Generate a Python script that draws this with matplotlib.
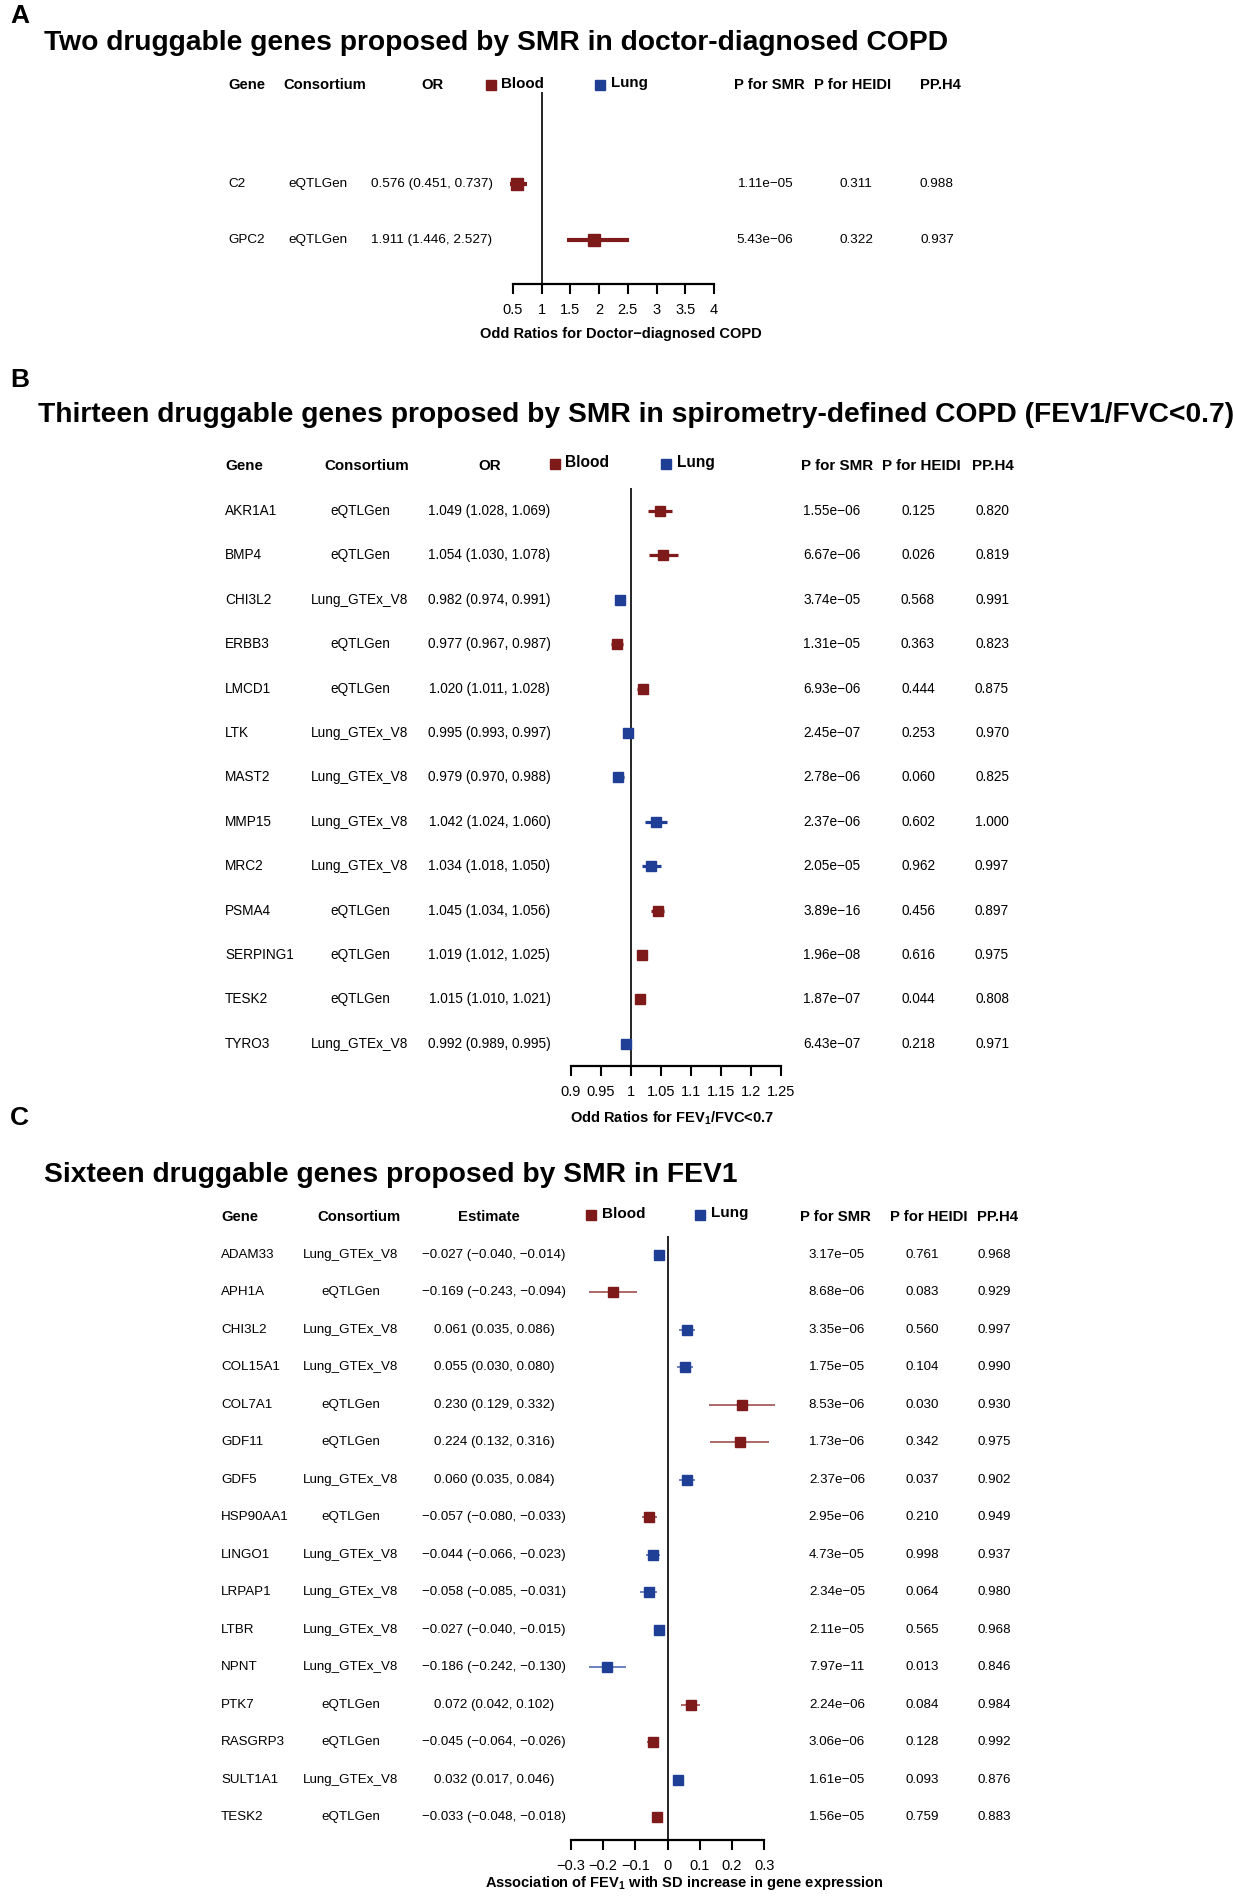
import matplotlib
matplotlib.use("Agg")
import matplotlib.pyplot as plt
from matplotlib.lines import Line2D

plt.rcParams['font.family'] = ['Liberation Sans', 'DejaVu Sans']
plt.rcParams['mathtext.fontset'] = 'custom'
plt.rcParams['mathtext.rm'] = 'Liberation Sans'
plt.rcParams['mathtext.bf'] = 'Liberation Sans:bold'

BLOOD = '#7f1a1a'
LUNG = '#1f3f96'

# ---- panel A: doctor-diagnosed COPD ----
a_genes = ['C2', 'GPC2']
a_consortium = ['eQTLGen', 'eQTLGen']
a_est = [0.576, 1.911]
a_lo = [0.451, 1.446]
a_hi = [0.737, 2.527]
a_tissue = ['Blood', 'Blood']
a_p_smr = ['1.11e−05', '5.43e−06']
a_p_heidi = ['0.311', '0.322']
a_pph4 = ['0.988', '0.937']
a_ticks = [0.5, 1, 1.5, 2, 2.5, 3, 3.5, 4]
a_ticklabels = ['0.5', '1', '1.5', '2', '2.5', '3', '3.5', '4']

# ---- panel B: spirometry-defined COPD ----
b_genes = ['AKR1A1', 'BMP4', 'CHI3L2', 'ERBB3', 'LMCD1', 'LTK', 'MAST2',
           'MMP15', 'MRC2', 'PSMA4', 'SERPING1', 'TESK2', 'TYRO3']
b_consortium = ['eQTLGen', 'eQTLGen', 'Lung_GTEx_V8', 'eQTLGen', 'eQTLGen',
                'Lung_GTEx_V8', 'Lung_GTEx_V8', 'Lung_GTEx_V8', 'Lung_GTEx_V8',
                'eQTLGen', 'eQTLGen', 'eQTLGen', 'Lung_GTEx_V8']
b_est = [1.049, 1.054, 0.982, 0.977, 1.020, 0.995, 0.979, 1.042, 1.034,
         1.045, 1.019, 1.015, 0.992]
b_lo = [1.028, 1.030, 0.974, 0.967, 1.011, 0.993, 0.970, 1.024, 1.018,
        1.034, 1.012, 1.010, 0.989]
b_hi = [1.069, 1.078, 0.991, 0.987, 1.028, 0.997, 0.988, 1.060, 1.050,
        1.056, 1.025, 1.021, 0.995]
b_tissue = ['Blood' if c == 'eQTLGen' else 'Lung' for c in b_consortium]
b_p_smr = ['1.55e−06', '6.67e−06', '3.74e−05', '1.31e−05', '6.93e−06',
           '2.45e−07', '2.78e−06', '2.37e−06', '2.05e−05', '3.89e−16',
           '1.96e−08', '1.87e−07', '6.43e−07']
b_p_heidi = ['0.125', '0.026', '0.568', '0.363', '0.444', '0.253', '0.060',
             '0.602', '0.962', '0.456', '0.616', '0.044', '0.218']
b_pph4 = ['0.820', '0.819', '0.991', '0.823', '0.875', '0.970', '0.825',
          '1.000', '0.997', '0.897', '0.975', '0.808', '0.971']
b_ticks = [0.9, 0.95, 1, 1.05, 1.1, 1.15, 1.2, 1.25]
b_ticklabels = ['0.9', '0.95', '1', '1.05', '1.1', '1.15', '1.2', '1.25']

# ---- panel C: FEV1 ----
c_genes = ['ADAM33', 'APH1A', 'CHI3L2', 'COL15A1', 'COL7A1', 'GDF11', 'GDF5',
           'HSP90AA1', 'LINGO1', 'LRPAP1', 'LTBR', 'NPNT', 'PTK7', 'RASGRP3',
           'SULT1A1', 'TESK2']
c_consortium = ['Lung_GTEx_V8', 'eQTLGen', 'Lung_GTEx_V8', 'Lung_GTEx_V8',
                'eQTLGen', 'eQTLGen', 'Lung_GTEx_V8', 'eQTLGen', 'Lung_GTEx_V8',
                'Lung_GTEx_V8', 'Lung_GTEx_V8', 'Lung_GTEx_V8', 'eQTLGen',
                'eQTLGen', 'Lung_GTEx_V8', 'eQTLGen']
c_est = [-0.027, -0.169, 0.061, 0.055, 0.230, 0.224, 0.060, -0.057, -0.044,
         -0.058, -0.027, -0.186, 0.072, -0.045, 0.032, -0.033]
c_lo = [-0.040, -0.243, 0.035, 0.030, 0.129, 0.132, 0.035, -0.080, -0.066,
        -0.085, -0.040, -0.242, 0.042, -0.064, 0.017, -0.048]
c_hi = [-0.014, -0.094, 0.086, 0.080, 0.332, 0.316, 0.084, -0.033, -0.023,
        -0.031, -0.015, -0.130, 0.102, -0.026, 0.046, -0.018]
c_tissue = ['Blood' if c == 'eQTLGen' else 'Lung' for c in c_consortium]
c_p_smr = ['3.17e−05', '8.68e−06', '3.35e−06', '1.75e−05', '8.53e−06',
           '1.73e−06', '2.37e−06', '2.95e−06', '4.73e−05', '2.34e−05',
           '2.11e−05', '7.97e−11', '2.24e−06', '3.06e−06', '1.61e−05',
           '1.56e−05']
c_p_heidi = ['0.761', '0.083', '0.560', '0.104', '0.030', '0.342', '0.037',
             '0.210', '0.998', '0.064', '0.565', '0.013', '0.084', '0.128',
             '0.093', '0.759']
c_pph4 = ['0.968', '0.929', '0.997', '0.990', '0.930', '0.975', '0.902',
          '0.949', '0.937', '0.980', '0.968', '0.846', '0.984', '0.992',
          '0.876', '0.883']
c_ticks = [-0.3, -0.2, -0.1, 0, 0.1, 0.2, 0.3]
c_ticklabels = ['−0.3', '−0.2', '−0.1', '0', '0.1', '0.2', '0.3']

W, H = 1233, 1900
fig = plt.figure(figsize=(W / 100, H / 100), dpi=100)


def fx(x):
    return x / W


def fy(y):
    return 1 - y / H


def fmt(v, lo, hi):
    s = f"{v:.3f} ({lo:.3f}, {hi:.3f})"
    return s.replace('-', '−')


def panel(lay, genes, cons, est, lo, hi, tissue, p_smr, p_heidi, pph4,
          ticks, ticklabels, ref, est_name, xlabel):
    fs = lay['fs']
    hfs = lay['hfs']
    # panel letter and title
    fig.text(fx(10), fy(lay['letter_y']), lay['letter'], fontsize=19,
             fontweight='bold', va='center', ha='left')
    fig.text(fx(lay['title_x']), fy(lay['title_y']), lay['title'],
             fontsize=lay['title_fs'], fontweight='bold', va='center', ha='left')

    # header row
    hy = fy(lay['head_y'])
    hc = lay['head']
    fig.text(fx(hc[0]), hy, 'Gene', fontsize=hfs, fontweight='bold', va='center')
    fig.text(fx(hc[1]), hy, 'Consortium', fontsize=hfs, fontweight='bold',
             va='center', ha='center')
    fig.text(fx(hc[2]), hy, est_name, fontsize=hfs, fontweight='bold',
             va='center', ha='center')
    fig.text(fx(hc[3]), hy, 'P for SMR', fontsize=hfs, fontweight='bold',
             va='center', ha='center')
    fig.text(fx(hc[4]), hy, 'P for HEIDI', fontsize=hfs, fontweight='bold',
             va='center', ha='center')
    fig.text(fx(hc[5]), hy, 'PP.H4', fontsize=hfs, fontweight='bold',
             va='center', ha='center')
    ly = fy(lay['leg_y'])
    for (sx, tx), name, col in zip(lay['leg'], ['Blood', 'Lung'], [BLOOD, LUNG]):
        fig.add_artist(Line2D([fx(sx)], [ly], marker='s', ms=6.5, color=col,
                              lw=0, transform=fig.transFigure))
        fig.text(fx(tx), ly + 1.5 / H, name, fontsize=hfs + 0.3,
                 fontweight='bold', va='center', ha='left')

    # table rows
    vc = lay['vals']
    for i in range(len(genes)):
        y = fy(lay['row0'] + i * lay['step'])
        fig.text(fx(vc[0]), y, genes[i], fontsize=fs, va='center')
        fig.text(fx(vc[1]), y, cons[i], fontsize=fs, va='center', ha='center')
        fig.text(fx(vc[2]), y, fmt(est[i], lo[i], hi[i]), fontsize=fs,
                 va='center', ha='center')
        fig.text(fx(vc[3]), y, p_smr[i], fontsize=fs, va='center', ha='center')
        fig.text(fx(vc[4]), y, p_heidi[i], fontsize=fs, va='center', ha='center')
        fig.text(fx(vc[5]), y, pph4[i], fontsize=fs, va='center', ha='center')

    # forest plot
    x0, x1 = lay['axis_x']
    top, ay = lay['line_top'], lay['axis_y']
    ax = fig.add_axes([fx(x0), fy(ay), fx(x1) - fx(x0), (ay - top) / H])
    ax.set_xlim(ticks[0], ticks[-1])
    ax.set_ylim((ay - lay['row0']) / lay['step'], (top - lay['row0']) / lay['step'])
    ax.axvline(ref, color='black', lw=1.2, zorder=1)
    for i in range(len(est)):
        col = BLOOD if tissue[i] == 'Blood' else LUNG
        ax.plot([lo[i], hi[i]], [i, i], color=col, lw=lay['ci_lw'],
                alpha=lay['ci_alpha'], solid_capstyle='butt', clip_on=False,
                zorder=2)
        ax.plot([est[i]], [i], marker='s', ms=lay['ms'], color=col, lw=0,
                clip_on=False, zorder=3)
    for s in ['top', 'left', 'right']:
        ax.spines[s].set_visible(False)
    ax.spines['bottom'].set_linewidth(1.6)
    ax.set_yticks([])
    ax.set_xticks(ticks)
    ax.set_xticklabels(ticklabels)
    ax.tick_params(axis='x', direction='out', length=7, width=1.5, pad=7,
                   labelsize=10.5)
    ax.patch.set_visible(False)
    fig.text(fx(lay['xlabel_x']), fy(lay['xlabel_y']), xlabel, fontsize=10.5,
             fontweight='bold', va='center', ha='center')


lay_a = dict(letter='A', letter_y=16, title='Two druggable genes proposed by SMR in doctor-diagnosed COPD',
             title_x=44, title_y=42.5, title_fs=20.3, fs=9.7, hfs=10.6, head_y=85, leg_y=85,
             head=[228, 325, 432, 769, 853, 940], leg=[(491, 501), (600, 611)],
             vals=[228, 318, 432, 765, 856, 937], row0=184, step=56,
             axis_x=(513, 714), line_top=92, axis_y=284, ms=8.5, ci_lw=3.0,
             ci_alpha=1.0, xlabel_x=621, xlabel_y=334)
lay_b = dict(letter='B', letter_y=380,
             title='Thirteen druggable genes proposed by SMR in spirometry-defined COPD (FEV1/FVC<0.7)',
             title_x=38, title_y=415.5, title_fs=20.3, fs=9.8, hfs=10.9, head_y=466, leg_y=464,
             head=[225, 367, 490, 837, 921, 993], leg=[(555, 565), (666, 677)],
             vals=[225, 360, 489.5, 832, 918, 992], row0=511, step=44.4,
             axis_x=(570.7, 781), line_top=488, axis_y=1066, ms=7.5, ci_lw=2.3,
             ci_alpha=1.0, xlabel_x=672, xlabel_y=1118)
lay_c = dict(letter='C', letter_y=1118, title='Sixteen druggable genes proposed by SMR in FEV1',
             title_x=44, title_y=1174.5, title_fs=20.3, fs=9.6, hfs=10.7, head_y=1217, leg_y=1215,
             head=[221, 359, 488.5, 835.5, 929, 998], leg=[(591, 602), (700, 711)],
             vals=[221, 351, 494, 837, 922, 994], row0=1255, step=37.47,
             axis_x=(570.7, 764.3), line_top=1236, axis_y=1840, ms=7, ci_lw=1.3,
             ci_alpha=0.7, xlabel_x=684, xlabel_y=1883)

panel(lay_a, a_genes, a_consortium, a_est, a_lo, a_hi, a_tissue, a_p_smr,
      a_p_heidi, a_pph4, a_ticks, a_ticklabels, 1, 'OR',
      'Odd Ratios for Doctor−diagnosed COPD')
panel(lay_b, b_genes, b_consortium, b_est, b_lo, b_hi, b_tissue, b_p_smr,
      b_p_heidi, b_pph4, b_ticks, b_ticklabels, 1, 'OR',
      r'Odd Ratios for FEV$_{\mathbf{1}}$/FVC<0.7')
panel(lay_c, c_genes, c_consortium, c_est, c_lo, c_hi, c_tissue, c_p_smr,
      c_p_heidi, c_pph4, c_ticks, c_ticklabels, 0, 'Estimate',
      r'Association of FEV$_{\mathbf{1}}$ with SD increase in gene expression')

fig.savefig('out.png', dpi=100)
